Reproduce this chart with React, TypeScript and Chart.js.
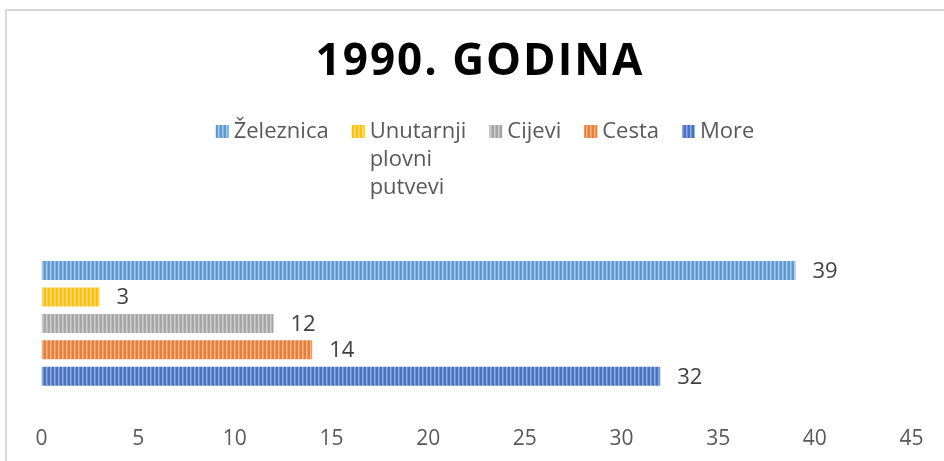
import React, { useEffect, useRef } from "react";
import { Chart, registerables } from "chart.js";

Chart.register(...registerables);

const chartTitle = "1990. GODINA";
const categories = ["1990"];
const seriesLabels = ["Železnica", "Unutarnji plovni putvevi", "Cijevi", "Cesta", "More"];
const seriesValues = [39, 3, 12, 14, 32];
const seriesColors = ["#5B9BD5", "#FFC000", "#A5A5A5", "#ED7D31", "#4472C4"];
const seriesLightColors = ["#A9CBEB", "#FFDC7A", "#CFCFCF", "#F5B48A", "#93ADDE"];
const xMin = 0;
const xMax = 45;
const xStep = 5;

const FONT = "'Open Sans', sans-serif";

function makePattern(base: string, light: string): CanvasPattern | string {
  const c = document.createElement("canvas");
  c.width = 4;
  c.height = 4;
  const g = c.getContext("2d");
  if (!g) return base;
  g.fillStyle = base;
  g.fillRect(0, 0, 4, 4);
  g.fillStyle = light;
  g.fillRect(2, 0, 1, 4);
  g.globalAlpha = 0.5;
  g.fillRect(3, 0, 1, 4);
  const p = g.createPattern(c, "repeat");
  return p || base;
}

function wrapWords(ctx: CanvasRenderingContext2D, text: string, maxW: number): string[] {
  const words = text.split(" ");
  const lines: string[] = [];
  let cur = "";
  for (const w of words) {
    const t = cur ? cur + " " + w : w;
    if (cur && ctx.measureText(t).width > maxW) {
      lines.push(cur);
      cur = w;
    } else cur = t;
  }
  if (cur) lines.push(cur);
  return lines;
}

const decorPlugin = {
  id: "decor",
  beforeDraw(chart: any) {
    const ctx = chart.ctx as CanvasRenderingContext2D;
    ctx.save();
    ctx.fillStyle = "#ffffff";
    ctx.fillRect(0, 0, chart.width, chart.height);
    ctx.strokeStyle = "#D9D9D9";
    ctx.lineWidth = 2;
    ctx.beginPath();
    ctx.moveTo(6, chart.height);
    ctx.lineTo(6, 10);
    ctx.lineTo(chart.width, 10);
    ctx.stroke();
    ctx.restore();
  },
  afterDraw(chart: any) {
    const ctx = chart.ctx as CanvasRenderingContext2D;
    // title
    ctx.save();
    ctx.font = `bold 44px ${FONT}`;
    (ctx as any).letterSpacing = "2px";
    ctx.fillStyle = "#000000";
    ctx.textAlign = "center";
    ctx.textBaseline = "alphabetic";
    ctx.fillText(chartTitle, 480, 75);
    ctx.restore();

    // legend
    ctx.save();
    ctx.font = `22px ${FONT}`;
    ctx.textBaseline = "alphabetic";
    ctx.textAlign = "left";
    const boxW = 13;
    const textOff = 18;
    const gap = 23;
    const lineH = 28;
    const items = chart.data.datasets.map((ds: any, i: number) => {
      const lines = wrapWords(ctx, ds.label, 110);
      const w = Math.max(...lines.map((l: string) => ctx.measureText(l).width));
      return { lines, w, i };
    });
    const total = items.reduce((s: number, it: any) => s + textOff + it.w, 0) + gap * (items.length - 1);
    let x = 485 - total / 2;
    const base = 138;
    for (const it of items) {
      ctx.fillStyle = chart.data.datasets[it.i].backgroundColor;
      ctx.fillRect(x, base - 13, boxW, 13);
      ctx.fillStyle = "#595959";
      it.lines.forEach((l: string, k: number) => ctx.fillText(l, x + textOff, base + k * lineH));
      x += textOff + it.w + gap;
    }
    ctx.restore();
  },
  afterDatasetsDraw(chart: any) {
    const ctx = chart.ctx as CanvasRenderingContext2D;
    ctx.save();
    ctx.font = `22px ${FONT}`;
    ctx.fillStyle = "#404040";
    ctx.textAlign = "left";
    ctx.textBaseline = "middle";
    chart.data.datasets.forEach((ds: any, i: number) => {
      const meta = chart.getDatasetMeta(i);
      meta.data.forEach((bar: any, j: number) => {
        ctx.fillText(String(ds.data[j]), bar.x + 17, bar.y + 1);
      });
    });
    ctx.restore();
  },
};

export default function App() {
  const ref = useRef<HTMLCanvasElement>(null);
  useEffect(() => {
    if (!ref.current) return;
    const datasets = seriesLabels.map((label, i) => ({
      label,
      data: [seriesValues[i]],
      backgroundColor: makePattern(seriesColors[i], seriesLightColors[i]) as any,
      borderWidth: 0,
      categoryPercentage: 0.7,
      barPercentage: 0.717,
    }));
    const chart = new Chart(ref.current, {
      type: "bar",
      data: { labels: categories, datasets },
      options: {
        indexAxis: "y",
        animation: false,
        responsive: false,
        layout: { padding: { left: 41.5, right: 32.5, top: 229, bottom: 0 } },
        plugins: {
          legend: { display: false },
          title: { display: false },
          tooltip: { enabled: false },
        },
        scales: {
          x: {
            min: xMin,
            max: xMax,
            grid: { display: false, drawTicks: false },
            border: { display: false },
            ticks: {
              stepSize: xStep,
              padding: 9,
              color: "#595959",
              font: { family: FONT, size: 21 },
              maxRotation: 0,
            },
          },
          y: {
            display: false,
            grid: { display: false },
          },
        },
      },
      plugins: [decorPlugin],
    });
    return () => chart.destroy();
  }, []);
  return (
    <div style={{ position: "absolute", left: 0, top: 0, width: 944, height: 461 }}>
      <canvas ref={ref} width={944} height={461} />
    </div>
  );
}
